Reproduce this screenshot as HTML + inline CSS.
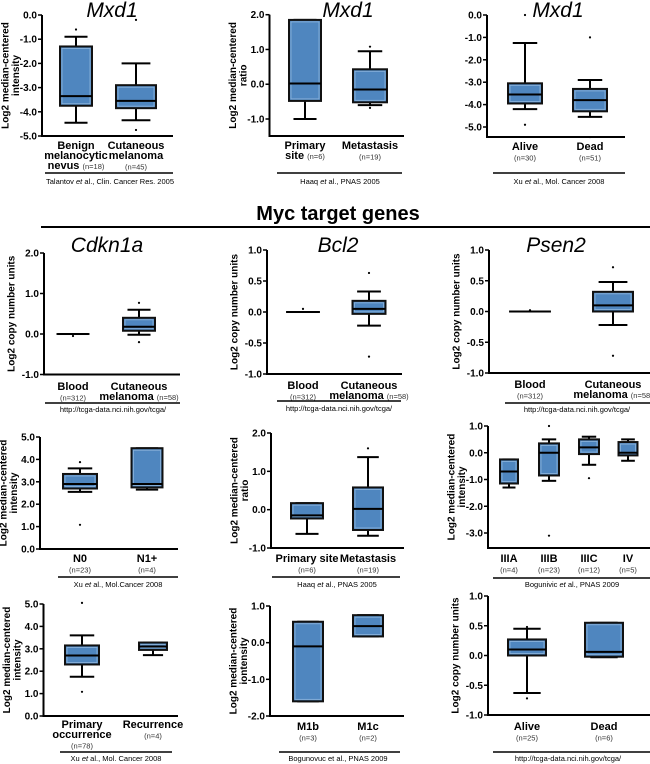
<!DOCTYPE html>
<html><head><meta charset="utf-8"><style>
html,body{margin:0;padding:0;background:#fff}
svg{display:block;font-family:"Liberation Sans",Arial,sans-serif}
</style></head><body>
<svg id="fig" width="650" height="764" viewBox="0 0 650 764" xmlns="http://www.w3.org/2000/svg"></svg>
<script>
// ---- data: each box = [whiskerLow, Q1, median, Q3, whiskerHigh]
const a1Cats=["Benign melanocytic nevus","Cutaneous melanoma"];
const a1Boxes=[[-4.45,-3.75,-3.35,-1.3,-0.9],[-4.35,-3.85,-3.55,-2.9,-2.0]];
const a1Out=[[-0.6],[-0.2,-4.75]];
const a2Cats=["Primary site","Metastasis"];
const a2Boxes=[[-1.0,-0.48,0.02,1.85,1.85],[-0.6,-0.52,-0.15,0.43,0.95]];
const a2Out=[[],[1.08,-0.68]];
const a3Cats=["Alive","Dead"];
const a3Boxes=[[-4.2,-3.95,-3.55,-3.05,-1.25],[-4.55,-4.3,-3.8,-3.3,-2.9]];
const a3Out=[[0.0,-4.9],[-1.0,-5.45]];
const b1Cats=["Blood","Cutaneous melanoma"];
const b1Boxes=[[0,0,0,0,0],[-0.02,0.08,0.18,0.4,0.6]];
const b1Out=[[-0.05],[0.77,-0.2]];
const b2Cats=["Blood","Cutaneous melanoma"];
const b2Boxes=[[0,0,0,0,0],[-0.22,-0.03,0.05,0.18,0.33]];
const b2Out=[[0.05],[0.63,-0.72]];
const b3Cats=["Blood","Cutaneous melanoma"];
const b3Boxes=[[0,0,0,0,0],[-0.22,0.0,0.1,0.32,0.48]];
const b3Out=[[0.02],[0.72,-0.72]];
const c1Cats=["N0","N1+"];
const c1Boxes=[[2.55,2.7,2.9,3.35,3.6],[2.65,2.75,2.9,4.5,4.5]];
const c1Out=[[3.88,1.08],[]];
const c2Cats=["Primary site","Metastasis"];
const c2Boxes=[[-0.63,-0.23,-0.15,0.17,0.17],[-0.68,-0.53,0.02,0.58,1.37]];
const c2Out=[[],[1.6]];
const c3Cats=["IIIA","IIIB","IIIC","IV"];
const c3Boxes=[[-1.3,-1.15,-0.7,-0.25,-0.25],[-1.05,-0.85,0.0,0.35,0.5],[-0.45,-0.05,0.2,0.5,0.6],[-0.3,-0.1,0.0,0.4,0.5]];
const c3Out=[[],[1.0,-3.1],[-0.95],[]];
const d1Cats=["Primary occurrence","Recurrence"];
const d1Boxes=[[1.75,2.3,2.7,3.15,3.6],[2.72,2.95,3.1,3.28,3.28]];
const d1Out=[[5.05,1.08],[]];
const d2Cats=["M1b","M1c"];
const d2Boxes=[[-1.6,-1.6,-0.1,0.57,0.57],[0.17,0.17,0.45,0.75,0.75]];
const d2Out=[[],[]];
const d3Cats=["Alive","Dead"];
const d3Boxes=[[-0.63,0.0,0.1,0.27,0.45],[-0.03,-0.02,0.06,0.55,0.55]];
const d3Out=[[-0.72,0.48],[]];

const NS="http://www.w3.org/2000/svg";
const svg=document.getElementById('fig');
function el(tag,attrs,parent,text){
  const e=document.createElementNS(NS,tag);
  for(const k in attrs)e.setAttribute(k,attrs[k]);
  if(text!==undefined)e.textContent=text;
  (parent||svg).appendChild(e);return e;
}
const panels=[
 {id:'a1',cats:a1Cats,boxes:a1Boxes,out:a1Out,ax:42,xend:173,v0:0,p0:15,v1:-5,p1:136,bottom:136,ticks:[0,-1,-2,-3,-4,-5],
  xs:[76,136],ws:[32,40],ylab:['Log2 median-centered','intensity'],title:'Mxd1',tx:112,ty:17,
  labs:[[[['Benign',0]],[['melanocytic',0]],[['nevus ',0],['(n=18)',1]]],[[['Cutaneous',0]],[['melanoma',0]],[['(n=45)',1]]]],ly:145,
  ul:[45,173,173],cite:['Talantov ',['et',1],' al., Clin. Cancer Res. 2005'],cx:110,cy:184},
 {id:'a2',cats:a2Cats,boxes:a2Boxes,out:a2Out,ax:269.5,xend:404,v0:2,p0:14.7,v1:-1,p1:119,bottom:136,ticks:[2,1,0,-1],
  xs:[305,370],ws:[32,34],ylab:['Log2 median-centered','ratio'],title:'Mxd1',tx:348,ty:17,
  labs:[[[['Primary',0]],[['site ',0],['(n=6)',1]]],[[['Metastasis',0]],[['(n=19)',1]]]],ly:145,
  ul:[277,402,173],cite:['Haaq ',['et',1],' al., PNAS 2005'],cx:340,cy:184},
 {id:'a3',cats:a3Cats,boxes:a3Boxes,out:a3Out,ax:487,xend:625,v0:0,p0:15,v1:-5,p1:127,bottom:137,ticks:[0,-1,-2,-3,-4,-5],
  xs:[525,590],ws:[34,34],ylab:[],title:'Mxd1',tx:558,ty:17,
  labs:[[[['Alive',0]],[['(n=30)',1]]],[[['Dead',0]],[['(n=51)',1]]]],ly:146,
  ul:[493,625,173],cite:['Xu ',['et',1],' al., Mol. Cancer 2008'],cx:559,cy:184},
 {id:'b1',cats:b1Cats,boxes:b1Boxes,out:b1Out,ax:44,xend:180,v0:2,p0:253,v1:-1,p1:374.5,bottom:374.5,ticks:[2,1,0,-1],
  xs:[73,139],ws:[31,32],ylab:['Log2 copy number units'],title:'Cdkn1a',tx:107,ty:252,
  labs:[[[['Blood',0]],[['(n=312)',1]]],[[['Cutaneous',0]],[['melanoma ',0],['(n=58)',1]]]],ly:386,
  ul:[45,180,403],cite:['http://tcga-data.nci.nih.gov/tcga/'],cx:113,cy:412},
 {id:'b2',cats:b2Cats,boxes:b2Boxes,out:b2Out,ax:267,xend:402,v0:1,p0:250,v1:-1,p1:374,bottom:374,ticks:[1,0.5,0,-0.5,-1],
  xs:[303,369],ws:[32,33],ylab:['Log2 copy number units'],title:'Bcl2',tx:338,ty:252,
  labs:[[[['Blood',0]],[['(n=312)',1]]],[[['Cutaneous',0]],[['melanoma ',0],['(n=58)',1]]]],ly:385,
  ul:[277,401,401],cite:['http://tcga-data.nci.nih.gov/tcga/'],cx:339,cy:411},
 {id:'b3',cats:b3Cats,boxes:b3Boxes,out:b3Out,ax:489,xend:650,v0:1,p0:250,v1:-1,p1:373,bottom:373,ticks:[1,0.5,0,-0.5,-1],
  xs:[530,613],ws:[40,40],ylab:['Log2 copy number units'],title:'Psen2',tx:556,ty:252,
  labs:[[[['Blood',0]],[['(n=312)',1]]],[[['Cutaneous',0]],[['melanoma ',0],['(n=58)',1]]]],ly:384,
  ul:[505,650,403],cite:['http://tcga-data.nci.nih.gov/tcga/'],cx:577,cy:412},
 {id:'c1',cats:c1Cats,boxes:c1Boxes,out:c1Out,ax:40,xend:178,v0:5,p0:437,v1:0,p1:549,bottom:549,ticks:[5,4,3,2,1,0],
  xs:[80,147],ws:[34,31],ylab:['Log2 median-centered','intensity'],
  labs:[[[['N0',0]],[['(n=23)',1]]],[[['N1+',0]],[['(n=4)',1]]]],ly:558,
  ul:[58,178,577],cite:['Xu ',['et',1],' al., Mol.Cancer 2008'],cx:118,cy:587},
 {id:'c2',cats:c2Cats,boxes:c2Boxes,out:c2Out,ax:271,xend:404,v0:2,p0:433,v1:-1,p1:548,bottom:548,ticks:[2,1,0,-1],
  xs:[307,368],ws:[32,30],ylab:['Log2 median-centered','ratio'],
  labs:[[[['Primary site',0]],[['(n=6)',1]]],[[['Metastasis',0]],[['(n=19)',1]]]],ly:558,
  ul:[272,400,577],cite:['Haaq ',['et',1],' al., PNAS 2005'],cx:337,cy:587},
 {id:'c3',cats:c3Cats,boxes:c3Boxes,out:c3Out,ax:488,xend:650,v0:1,p0:426,v1:-3,p1:533,bottom:548,ticks:[1,0,-1,-2,-3],
  xs:[509,549,589,628],ws:[18,20,20,19],ylab:['Log2 median-centered','intensity'],
  labs:[[[['IIIA',0]],[['(n=4)',1]]],[[['IIIB',0]],[['(n=23)',1]]],[[['IIIC',0]],[['(n=12)',1]]],[[['IV',0]],[['(n=5)',1]]]],ly:558,
  ul:[493,650,578],cite:['Bogunivic ',['et',1],' al., PNAS 2009'],cx:572,cy:587},
 {id:'d1',cats:d1Cats,boxes:d1Boxes,out:d1Out,ax:43.5,xend:178,v0:5,p0:604,v1:0,p1:716,bottom:716,ticks:[5,4,3,2,1,0],
  xs:[82,153],ws:[34,28],ylab:['Log2 median-centered','intensity'],
  labs:[[[['Primary',0]],[['occurrence',0]],[['(n=78)',1]]],[[['Recurrence',0]],[['(n=4)',1]]]],ly:724,
  ul:[60,172,752],cite:['Xu ',['et',1],' al., Mol. Cancer 2008'],cx:116,cy:761},
 {id:'d2',cats:d2Cats,boxes:d2Boxes,out:d2Out,ax:270,xend:404,v0:1,p0:606,v1:-2,p1:716,bottom:716,ticks:[1,0,-1,-2],
  xs:[308,368],ws:[30,30],ylab:['Log2 median-centered','iontensity'],
  labs:[[[['M1b',0]],[['(n=3)',1]]],[[['M1c',0]],[['(n=2)',1]]]],ly:726,
  ul:[279,400,752],cite:['Bogunovuc et al., PNAS 2009'],cx:338,cy:761},
 {id:'d3',cats:d3Cats,boxes:d3Boxes,out:d3Out,ax:488,xend:650,v0:1,p0:596,v1:-1,p1:715,bottom:715,ticks:[1,0.5,0,-0.5,-1],
  xs:[527,604],ws:[38,38],ylab:['Log2 copy number units'],
  labs:[[[['Alive',0]],[['(n=25)',1]]],[[['Dead',0]],[['(n=6)',1]]]],ly:726,
  ul:[493,650,752],cite:['http://tcga-data.nci.nih.gov/tcga/'],cx:568,cy:761}
];
function fmt(v){return v.toFixed(1);}
panels.forEach(P=>{
  const g=el('g',{});
  
  
  const y=v=>P.p0+(v-P.v0)*(P.p1-P.p0)/(P.v1-P.v0);
  const top=y(P.ticks[0]);
  const ya=el('line',{x1:P.ax,y1:top,x2:P.ax,y2:P.bottom,stroke:'#000','stroke-width':2},g);
  
  
  const xa=el('line',{x1:P.ax-1,y1:P.bottom,x2:P.xend,y2:P.bottom,stroke:'#000','stroke-width':2},g);
  
  
  P.ticks.forEach(t=>{
    const ty=y(t);
    el('line',{x1:P.ax-4,y1:ty,x2:P.ax,y2:ty,stroke:'#000','stroke-width':1.5},g);
    const tl=el('text',{x:P.ax-5,y:ty+3.5,'text-anchor':'end','font-size':10,'font-weight':'bold'},g,fmt(t));
    
    
  });
  if(P.ylab.length){
    const cy=(top+P.bottom)/2;
    const n=P.ylab.length;
    P.ylab.forEach((s,i)=>{
      const lx=P.ax-(n===2?37:33)+i*10.5;
      const t=el('text',{x:lx,y:cy,'text-anchor':'middle','font-size':10,'font-weight':'bold',transform:`rotate(-90 ${lx} ${cy})`,dy:'0.35em'},g,s);
      
      
    });
  }
  P.boxes.forEach((b,i)=>{
    const cx=P.xs[i],w=P.ws[i],x0=cx-w/2;
    const bg=el('g',{},g);
    
    
    const cw=w*0.72;
    el('line',{x1:cx,y1:y(b[0]),x2:cx,y2:y(b[1]),stroke:'#000','stroke-width':2},bg);
    el('line',{x1:cx,y1:y(b[3]),x2:cx,y2:y(b[4]),stroke:'#000','stroke-width':2},bg);
    el('line',{x1:cx-cw/2,y1:y(b[0]),x2:cx+cw/2,y2:y(b[0]),stroke:'#000','stroke-width':2},bg);
    el('line',{x1:cx-cw/2,y1:y(b[4]),x2:cx+cw/2,y2:y(b[4]),stroke:'#000','stroke-width':2},bg);
    const h=y(b[1])-y(b[3]);
    el('rect',{x:x0,y:y(b[3]),width:w,height:Math.max(h,0.01),fill:'#4f86bf',stroke:'#111','stroke-width':2},bg);
    if(h>4)el('rect',{x:x0+2,y:y(b[3])+2,width:w-4,height:h-4,fill:'none',stroke:'#8fb6dd','stroke-width':0.8},bg);
    el('line',{x1:x0,y1:y(b[2]),x2:x0+w,y2:y(b[2]),stroke:'#000','stroke-width':2},bg);
    P.out[i].forEach(o=>{
      const d=el('circle',{cx:cx,cy:y(o),r:1.1,fill:'#000'},bg);
      
      
    });
  });
  P.labs.forEach((lines,i)=>{
    const t=el('text',{x:P.xs[i],y:P.ly+4,'text-anchor':'middle'},g);
    
    
    lines.forEach((segs,li)=>{
      segs.forEach((s,si)=>{
        const a={};
        if(si===0){a.x=P.xs[i];a.dy=li===0?0:(s[1]&&segs.length===1?10.5:10);}
        a['font-size']=s[1]?7.5:11;
        a['font-weight']=s[1]?'normal':'bold';
        a.fill=s[1]?'#333':'#000';
        el('tspan',a,t,s[0]);
      });
    });
  });
  const u=el('line',{x1:P.ul[0],y1:P.ul[2],x2:P.ul[1],y2:P.ul[2],stroke:'#000','stroke-width':1.6},g);
  
  
  const c=el('text',{x:P.cx,y:P.cy,'text-anchor':'middle','font-size':7.5},g);
  
  
  P.cite.forEach(s=>{
    if(Array.isArray(s))el('tspan',{'font-style':'italic'},c,s[0]);
    else el('tspan',{},c,s);
  });
  if(P.title){
    const tt=el('text',{x:P.tx,y:P.ty,'text-anchor':'middle','font-size':21,'font-style':'italic'},g,P.title);
    
    
  }
});
const mt=el('text',{x:338,y:220,'text-anchor':'middle','font-size':20,'font-weight':'bold'},svg,'Myc target genes');


const ml=el('line',{x1:41,y1:227,x2:650,y2:227,stroke:'#000','stroke-width':2},svg);


</script>
</body></html>
